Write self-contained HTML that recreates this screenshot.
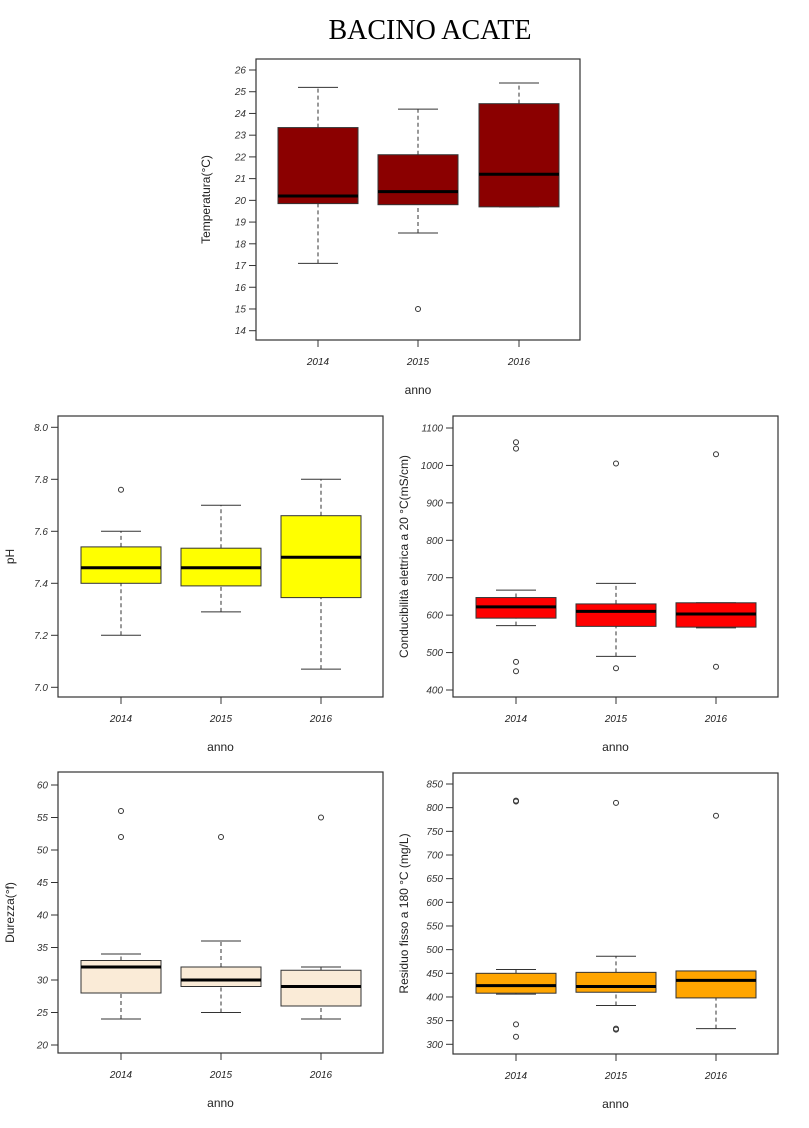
<!DOCTYPE html>
<html><head><meta charset="utf-8"><style>
body{margin:0;background:#fff;}
svg{display:block;font-family:"Liberation Sans",Arial,sans-serif;}
</style></head><body>
<svg id="s" width="809" height="1128" xmlns="http://www.w3.org/2000/svg">
<text x="430" y="39" text-anchor="middle" font-family="Liberation Serif,serif" font-size="28">BACINO ACATE</text>
</svg>
<script>
var s=document.getElementById('s'),h='';
function chart(c){
 var x0=c.x0,x1=c.x1,y0=c.y0,y1=c.y1;
 function Y(v){return c.ya+(v-c.va)*(c.yb-c.ya)/(c.vb-c.va);}
 h+='<rect x="'+x0+'" y="'+y0+'" width="'+(x1-x0)+'" height="'+(y1-y0)+'" fill="none" stroke="#333" stroke-width="1.2"/>';
 c.ticks.forEach(function(t){var y=Y(t);
  h+='<line x1="'+(x0-7)+'" x2="'+x0+'" y1="'+y+'" y2="'+y+'" stroke="#333"/>';
  h+='<text x="'+(x0-10)+'" y="'+(y+3.5)+'" text-anchor="end" font-size="10" font-style="italic" fill="#333">'+(c.fmt?c.fmt(t):t)+'</text>';});
 var yrs=['2014','2015','2016'];
 c.data.forEach(function(d,i){var cx=c.cx[i];
  h+='<line x1="'+cx+'" x2="'+cx+'" y1="'+y1+'" y2="'+(y1+7)+'" stroke="#333"/>';
  h+='<text x="'+cx+'" y="'+(y1+25)+'" text-anchor="middle" font-size="10" font-style="italic" fill="#222">'+yrs[i]+'</text>';
  var wl=Y(d[0]),q1=Y(d[1]),m=Y(d[2]),q3=Y(d[3]),wh=Y(d[4]);
  h+='<line x1="'+cx+'" x2="'+cx+'" y1="'+wl+'" y2="'+q1+'" stroke="#333" stroke-dasharray="4,3"/>';
  h+='<line x1="'+cx+'" x2="'+cx+'" y1="'+q3+'" y2="'+wh+'" stroke="#333" stroke-dasharray="4,3"/>';
  h+='<line x1="'+(cx-20)+'" x2="'+(cx+20)+'" y1="'+wl+'" y2="'+wl+'" stroke="#333"/>';
  h+='<line x1="'+(cx-20)+'" x2="'+(cx+20)+'" y1="'+wh+'" y2="'+wh+'" stroke="#333"/>';
  h+='<rect x="'+(cx-40)+'" y="'+q3+'" width="80" height="'+(q1-q3)+'" fill="'+c.col+'" stroke="#333" stroke-width="1"/>';
  h+='<line x1="'+(cx-40)+'" x2="'+(cx+40)+'" y1="'+m+'" y2="'+m+'" stroke="#000" stroke-width="3"/>';
  (d[5]||[]).forEach(function(o){h+='<circle cx="'+cx+'" cy="'+Y(o)+'" r="2.5" fill="none" stroke="#333"/>';});
 });
 var mx=(x0+x1)/2;
 h+='<text x="'+mx+'" y="'+(y1+54)+'" text-anchor="middle" font-size="12" fill="#222">anno</text>';
 var my=(y0+y1)/2;
 h+='<text transform="translate('+c.lx+','+my+') rotate(-90)" text-anchor="middle" font-size="12" fill="#222">'+c.lab+'</text>';
}
function rng(a,b,st){var r=[];for(var v=a;v<=b+1e-9;v+=st)r.push(Math.round(v*100)/100);return r;}
chart({x0:256,x1:580,y0:59,y1:340,ya:70,va:26,yb:330.7,vb:14,ticks:rng(14,26,1),cx:[318,418,519],col:'#8b0000',lx:210,lab:'Temperatura(°C)',
 data:[[17.1,19.85,20.2,23.35,25.2],[18.5,19.8,20.4,22.1,24.2,[15]],[19.7,19.7,21.2,24.45,25.4]]});
chart({x0:58,x1:383,y0:416,y1:697,ya:427.3,va:8,yb:687.3,vb:7,ticks:rng(7,8,0.2),fmt:function(t){return t.toFixed(1)},cx:[121,221,321],col:'#ffff00',lx:14,lab:'pH',
 data:[[7.2,7.4,7.46,7.54,7.6,[7.76]],[7.29,7.39,7.46,7.535,7.7],[7.07,7.345,7.5,7.66,7.8]]});
chart({x0:453,x1:778,y0:416,y1:697,ya:428,va:1100,yb:690,vb:400,ticks:rng(400,1100,100),cx:[516,616,716],col:'#ff0000',lx:408,lab:'Conducibilità elettrica a 20 °C(mS/cm)',
 data:[[572,592,622,647,667,[1062,1045,475,450]],[490,570,610,630,685,[1005,458]],[566,568,603,633,633,[1030,462]]]});
chart({x0:58,x1:383,y0:772,y1:1053,ya:785,va:60,yb:1045,vb:20,ticks:rng(20,60,5),cx:[121,221,321],col:'#faebd7',lx:14,lab:'Durezza(°f)',
 data:[[24,28,32,33,34,[56,52]],[25,29,30,32,36,[52]],[24,26,29,31.5,32,[55]]]});
chart({x0:453,x1:778,y0:773,y1:1054,ya:784,va:850,yb:1044.3,vb:300,ticks:rng(300,850,50),cx:[516,616,716],col:'#ffa500',lx:408,lab:'Residuo fisso a 180 °C (mg/L)',
 data:[[406,408,424,450,458,[813,815,342,316]],[382,410,422,452,486,[810,333,331]],[333,398,435,455,455,[783]]]});
s.insertAdjacentHTML('beforeend',h);
</script>
</body></html>
